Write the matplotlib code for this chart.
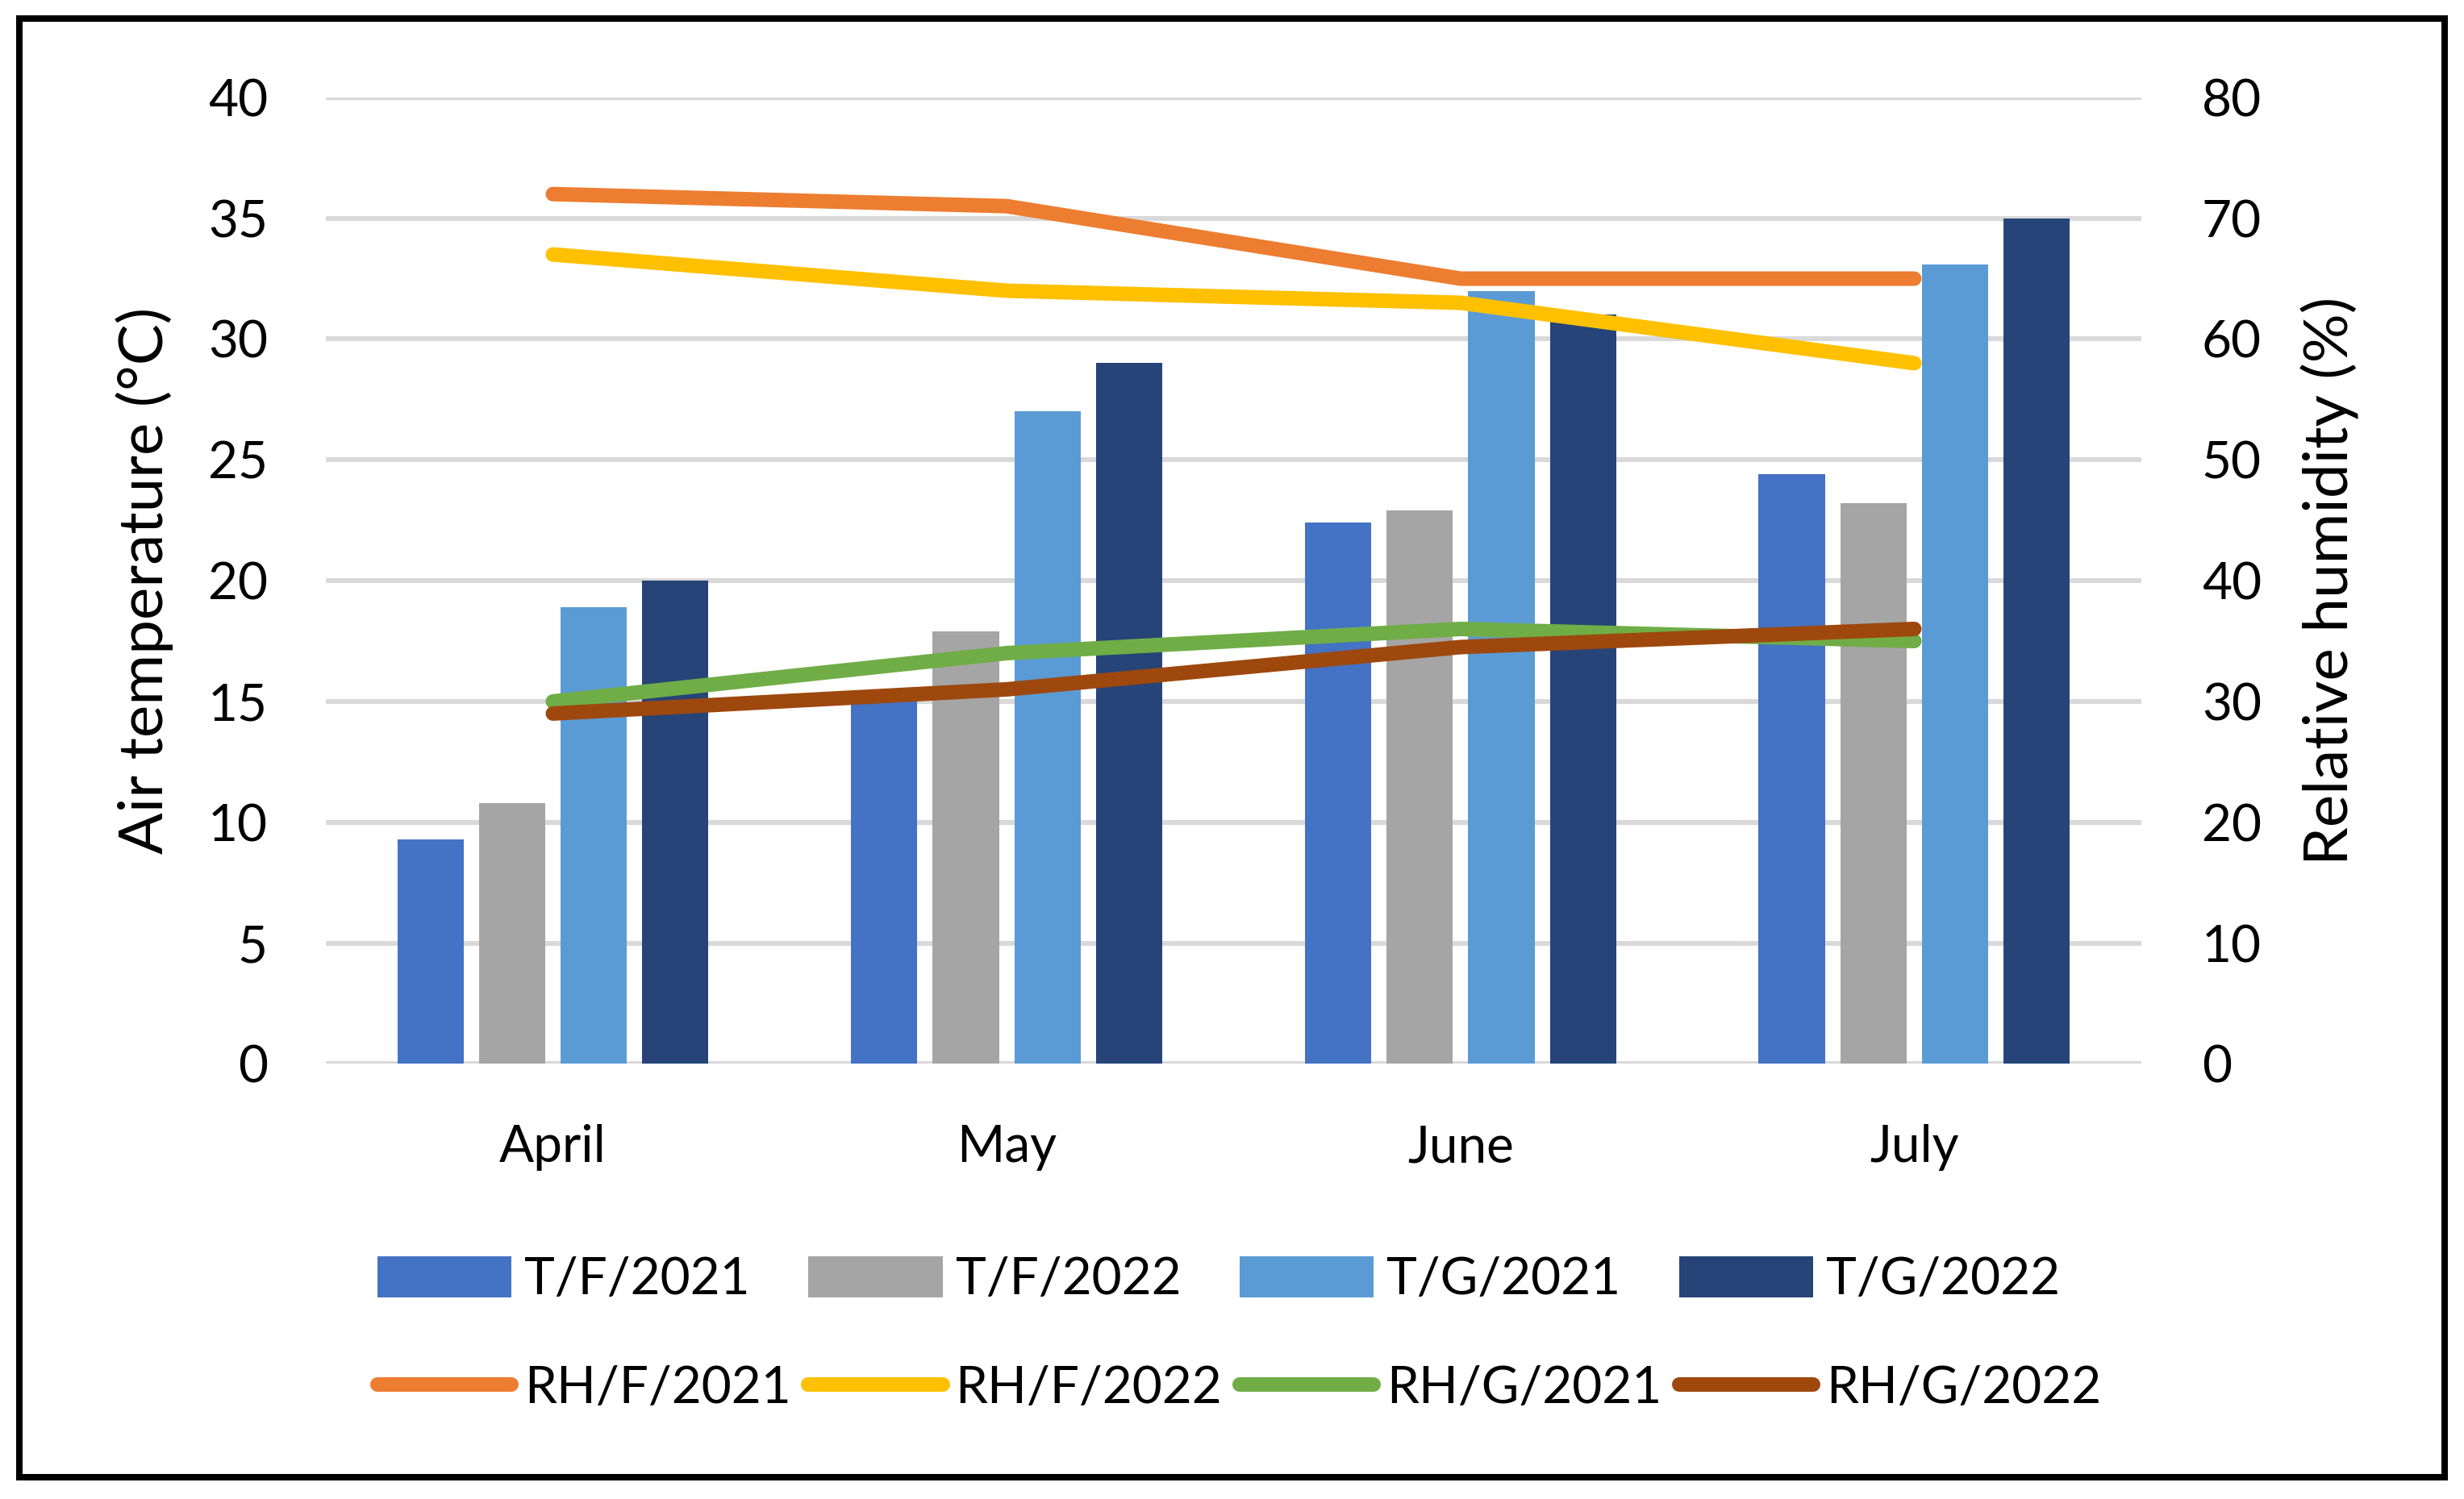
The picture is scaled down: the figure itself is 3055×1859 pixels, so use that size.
import matplotlib
matplotlib.use("Agg")
import matplotlib.pyplot as plt
import matplotlib.patches as mpatches
import numpy as np

plt.rcParams['font.family'] = ['Lato', 'DejaVu Sans']

months = ['April', 'May', 'June', 'July']

# air temperature (left axis, °C)
tf_2021 = [9.3, 15.3, 22.4, 24.4]
tf_2022 = [10.8, 17.9, 22.9, 23.2]
tg_2021 = [18.9, 27.0, 32.0, 33.1]
tg_2022 = [20.0, 29.0, 31.0, 35.0]

# relative humidity (right axis, %)
rh_f_2021 = [72, 71, 65, 65]
rh_f_2022 = [67, 64, 63, 58]
rh_g_2021 = [30, 34, 36, 35]
rh_g_2022 = [29, 31, 34.5, 36]

bar_names = ['T/F/2021', 'T/F/2022', 'T/G/2021', 'T/G/2022']
bar_colors = ['#4472C4', '#A5A5A5', '#5B9BD5', '#264478']
line_names = ['RH/F/2021', 'RH/F/2022', 'RH/G/2021', 'RH/G/2022']
line_colors = ['#ED7D31', '#FFC000', '#70AD47', '#9E480E']

fs = 23
fig = plt.figure(figsize=(15.275, 9.295), dpi=200)
ax = fig.add_axes([0.1323, 0.2903, 0.7367, 0.6447])
ax2 = ax.twinx()

x = np.arange(len(months))
width = 0.146
step = 0.18
bars = []
for i, (vals, name, col) in enumerate(zip([tf_2021, tf_2022, tg_2021, tg_2022], bar_names, bar_colors)):
    b = ax.bar(x + (i - 1.5) * step, vals, width, color=col, label=name, zorder=2)
    bars.append(b)

lines = []
for vals, name, col in zip([rh_f_2021, rh_f_2022, rh_g_2021, rh_g_2022], line_names, line_colors):
    l, = ax2.plot(x, vals, color=col, lw=6.5, solid_capstyle='round', solid_joinstyle='round', label=name)
    lines.append(l)

ax.set_xlim(-0.5, 3.5)
ax.set_ylim(0, 40)
ax2.set_ylim(0, 80)
ax.set_yticks(range(0, 41, 5))
ax2.set_yticks(range(0, 81, 10))
ax.set_xticks(x)
ax.set_xticklabels(months)
ax.grid(axis='y', color='#D9D9D9', lw=2.2)
ax.set_axisbelow(True)

for a in (ax, ax2):
    for s in a.spines.values():
        s.set_visible(False)
ax.tick_params(axis='both', length=0, labelsize=fs)
ax.tick_params(axis='y', pad=26)
ax.tick_params(axis='x', pad=27)
ax2.tick_params(axis='y', length=0, labelsize=fs, pad=27)

ax.set_ylabel('Air temperature (°C)', fontsize=27.5)
ax.yaxis.set_label_coords(-0.084, 0.5)
ax2.set_ylabel('Relative humidity (%)', fontsize=27.5)
ax2.yaxis.set_label_coords(1.088, 0.5)

handles = []
labels = []
for b, l in zip(bars, lines):
    handles += [b, l]
    labels += [b.get_label(), l.get_label()]
leg = fig.legend(handles, labels, ncol=4, loc='center', bbox_to_anchor=(0.503, 0.11),
                 frameon=False, fontsize=fs, handlelength=2.6, handleheight=0.85,
                 handletextpad=0.25, columnspacing=0.34, labelspacing=1.2)

# outer frame
fig.patches.append(mpatches.Rectangle((0.0077, 0.0147), 0.9846, 0.9727, transform=fig.transFigure,
                                      fill=False, edgecolor='black', lw=2.9))

fig.savefig('out.png', dpi=200)
